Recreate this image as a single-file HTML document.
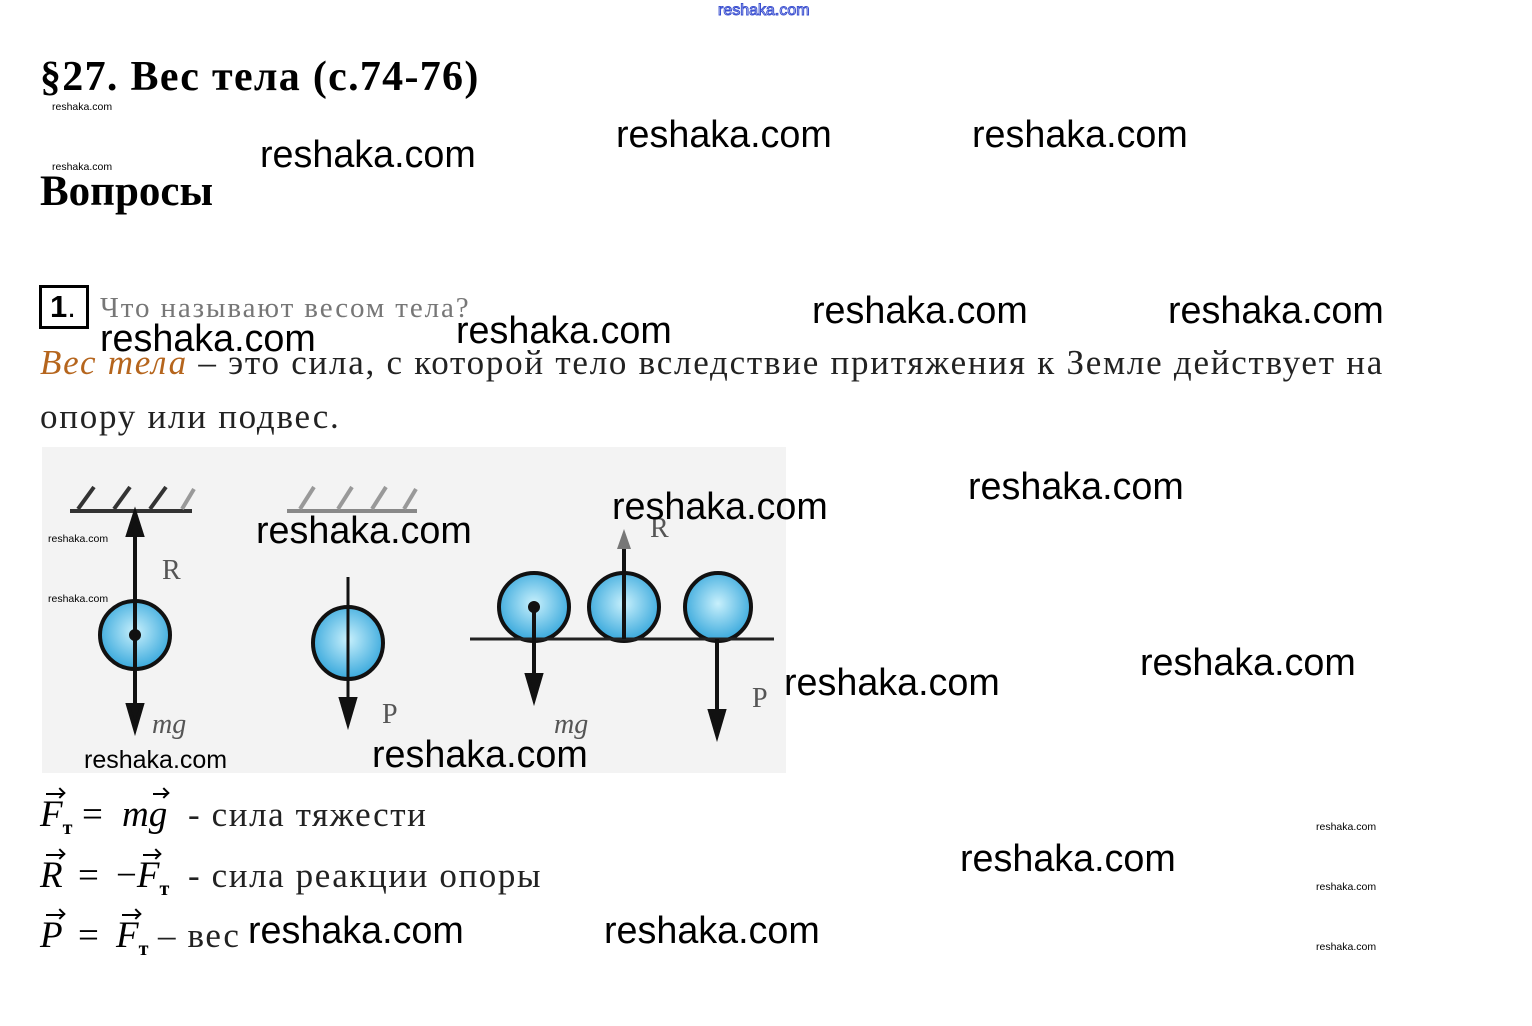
<!DOCTYPE html>
<html><head><meta charset="utf-8"><style>
body{margin:0;width:1532px;height:1026px;background:#fff;position:relative;overflow:hidden;font-family:"Liberation Serif",serif;}
.a{position:absolute;white-space:nowrap;line-height:1;}
.w{font-family:"Liberation Sans",sans-serif;font-size:37.7px;color:#000;}
.s{font-family:"Liberation Sans",sans-serif;font-size:10.5px;color:#000;}
i{font-style:italic}
.v{position:relative;display:inline-block;font-style:italic}
.v:before{content:"";position:absolute;left:25%;right:0;top:-3px;border-top:2px solid #000;}
.v:after{content:"";position:absolute;right:-1px;top:-7px;width:6px;height:6px;border-top:2px solid #000;border-right:2px solid #000;transform:rotate(45deg);}
sub{font-size:20px;vertical-align:-8px;font-weight:bold}
.f{font-size:37px;}
.t{font-size:35px;letter-spacing:1.6px;color:#222}
</style></head><body>
<div class="a" style="left:718px;top:3px;font-family:'Liberation Sans',sans-serif;font-size:16px;color:#fff;-webkit-text-stroke:1px #3a4fd0;">reshaka.com</div>
<div class="a" style="left:40px;top:56px;font-size:42px;font-weight:bold;letter-spacing:1.3px">§27. Вес тела (с.74-76)</div>
<div class="a s" style="left:52px;top:102px">reshaka.com</div>
<div class="a s" style="left:52px;top:162px">reshaka.com</div>
<div class="a" style="left:40px;top:170px;font-size:43px;font-weight:bold;">Вопросы</div>

<div class="a" style="left:39px;top:285px;width:50px;height:44px;border:3px solid #000;box-sizing:border-box;"></div>
<div class="a" style="left:50px;top:291px;font-family:'Liberation Sans',sans-serif;font-weight:bold;font-size:31px;">1<span style="font-weight:normal">.</span></div>
<div class="a" style="left:100px;top:294px;font-size:29px;color:#777;letter-spacing:1.9px">Что называют весом тела?</div>
<div class="a" style="left:40px;top:345px;font-size:35px;color:#222;letter-spacing:1.75px"><i style="color:#b5651d">Вес тела</i> – это сила, с которой тело вследствие притяжения к Земле действует на</div>
<div class="a" style="left:40px;top:399px;font-size:35px;color:#222;letter-spacing:1.75px">опору или подвес.</div>

<svg class="a" style="left:42px;top:447px" width="744" height="326" viewBox="0 0 744 326">
<defs><radialGradient id="g" cx="50%" cy="45%" r="55%"><stop offset="0" stop-color="#c8f0fc"/><stop offset="1" stop-color="#38a8dc"/></radialGradient></defs>
<rect width="744" height="326" fill="#f3f3f3"/>
<g stroke="#333" stroke-width="4">
<line x1="28" y1="64" x2="150" y2="64"/><line x1="36" y1="62" x2="52" y2="40"/><line x1="72" y1="62" x2="88" y2="40"/><line x1="108" y1="62" x2="124" y2="40"/><line x1="140" y1="62" x2="152" y2="42" stroke="#999"/>
<line x1="245" y1="64" x2="375" y2="64" stroke="#888"/><line x1="258" y1="62" x2="272" y2="40" stroke="#999"/><line x1="296" y1="62" x2="310" y2="40" stroke="#999"/><line x1="330" y1="62" x2="344" y2="40" stroke="#999"/><line x1="362" y1="62" x2="374" y2="42" stroke="#999"/>
</g>
<ellipse cx="93" cy="188" rx="35" ry="34" fill="url(#g)" stroke="#111" stroke-width="4"/>
<ellipse cx="306" cy="196" rx="35" ry="36" fill="url(#g)" stroke="#111" stroke-width="4"/>
<ellipse cx="492" cy="160" rx="35" ry="34" fill="url(#g)" stroke="#111" stroke-width="4"/>
<ellipse cx="582" cy="160" rx="35" ry="34" fill="url(#g)" stroke="#111" stroke-width="4"/>
<ellipse cx="676" cy="160" rx="33" ry="34" fill="url(#g)" stroke="#111" stroke-width="4"/>
<line x1="428" y1="192" x2="732" y2="192" stroke="#222" stroke-width="3"/>
<g stroke="#111" stroke-width="4" fill="#111">
<line x1="93" y1="66" x2="93" y2="188"/><path d="M93,66 l-7,22 h14z"/>
<line x1="93" y1="188" x2="93" y2="270"/><path d="M93,282 l-7,-24 h14z"/>
<circle cx="93" cy="188" r="4"/>
<line x1="306" y1="130" x2="306" y2="262" stroke-width="3"/><path d="M306,276 l-7,-24 h14z"/>
<line x1="492" y1="160" x2="492" y2="240"/><path d="M492,252 l-7,-24 h14z"/><circle cx="492" cy="160" r="4"/>
<line x1="582" y1="192" x2="582" y2="90" stroke-width="4"/><path d="M582,82 l-7,20 h14z" fill="#777" stroke="none"/>
<line x1="675" y1="192" x2="675" y2="278"/><path d="M675,288 l-7,-24 h14z"/>
</g>
<g font-family="Liberation Serif" font-size="28" fill="#555">
<text x="120" y="132">R</text><text x="110" y="286" font-style="italic">mg</text>
<text x="340" y="276">P</text><text x="512" y="286" font-style="italic">mg</text>
<text x="608" y="90">R</text><text x="710" y="260">P</text></g>
</svg>
<div class="a" style="left:84px;top:748px;font-family:'Liberation Sans',sans-serif;font-size:25px;">reshaka.com</div>

<div class="a f" style="left:40px;top:796px;"><span class="v">F</span><sub>т</sub></div>
<div class="a f" style="left:82px;top:796px;">=</div>
<div class="a f" style="left:122px;top:796px;"><i>m</i><span class="v">g</span></div>
<div class="a t" style="left:188px;top:797px;">- сила тяжести</div>

<div class="a f" style="left:40px;top:857px;"><span class="v">R</span></div>
<div class="a f" style="left:78px;top:857px;">=</div>
<div class="a f" style="left:116px;top:857px;">−<span class="v">F</span><sub>т</sub></div>
<div class="a t" style="left:188px;top:858px;">- сила реакции опоры</div>

<div class="a f" style="left:40px;top:917px;"><span class="v">P</span></div>
<div class="a f" style="left:78px;top:917px;">=</div>
<div class="a f" style="left:116px;top:917px;"><span class="v">F</span><sub>т</sub></div>
<div class="a t" style="left:158px;top:918px;">– вес</div>

<div class="a w" style="left:260px;top:136px">reshaka.com</div>
<div class="a w" style="left:616px;top:116px">reshaka.com</div>
<div class="a w" style="left:972px;top:116px">reshaka.com</div>
<div class="a w" style="left:100px;top:320px">reshaka.com</div>
<div class="a w" style="left:456px;top:312px">reshaka.com</div>
<div class="a w" style="left:812px;top:292px">reshaka.com</div>
<div class="a w" style="left:1168px;top:292px">reshaka.com</div>
<div class="a w" style="left:968px;top:468px">reshaka.com</div>
<div class="a w" style="left:256px;top:512px">reshaka.com</div>
<div class="a w" style="left:612px;top:488px">reshaka.com</div>
<div class="a w" style="left:784px;top:664px">reshaka.com</div>
<div class="a w" style="left:1140px;top:644px">reshaka.com</div>
<div class="a w" style="left:372px;top:736px">reshaka.com</div>
<div class="a w" style="left:960px;top:840px">reshaka.com</div>
<div class="a w" style="left:248px;top:912px">reshaka.com</div>
<div class="a w" style="left:604px;top:912px">reshaka.com</div>
<div class="a s" style="left:48px;top:534px">reshaka.com</div>
<div class="a s" style="left:48px;top:594px">reshaka.com</div>
<div class="a s" style="left:1316px;top:822px">reshaka.com</div>
<div class="a s" style="left:1316px;top:882px">reshaka.com</div>
<div class="a s" style="left:1316px;top:942px">reshaka.com</div>
</body></html>
